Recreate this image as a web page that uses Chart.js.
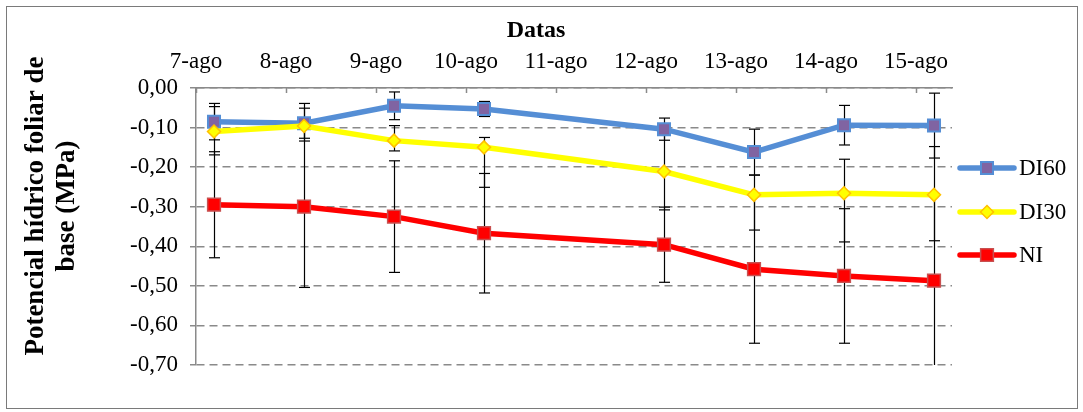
<!DOCTYPE html>
<html><head><meta charset="utf-8">
<script src="https://cdn.jsdelivr.net/npm/chart.js@4/dist/chart.umd.min.js"></script>
<style>html,body{margin:0;padding:0;background:#fff}canvas{display:block}</style>
</head><body>
<canvas id="c" width="1083" height="412"></canvas>
<script>
// ---- data ----
const tickDays   = [7, 8, 9, 10, 11, 12, 13, 14, 15];
const tickLabels = ['7-ago','8-ago','9-ago','10-ago','11-ago','12-ago','13-ago','14-ago','15-ago'];
const sampleDays = [7.2, 8.2, 9.2, 10.2, 12.2, 13.2, 14.2, 15.2];
const seriesNames = ['DI60', 'DI30', 'NI'];
const di60         = [-0.085, -0.089, -0.045, -0.053, -0.104, -0.162, -0.094, -0.095];
const di60ErrPlus  = [0.046, 0.038, 0.035, 0.019, 0.028, 0.058, 0.050, 0.082];
const di60ErrMinus = [0.046, 0.038, 0.035, 0.019, 0.028, 0.058, 0.050, 0.082];
const di30         = [-0.110, -0.096, -0.133, -0.150, -0.211, -0.270, -0.266, -0.270];
const di30ErrPlus  = [0.063, 0.057, 0.038, 0.025, 0.097, 0.050, 0.086, 0.122];
const di30ErrMinus = [0.059, 0.038, 0.026, 0.101, 0.097, 0.089, 0.123, 0.116];
const ni           = [-0.295, -0.300, -0.325, -0.367, -0.396, -0.458, -0.475, -0.487];
const niErrPlus    = [0.134, 0.204, 0.141, 0.151, 0.095, 0.187, 0.170, 0.220];
const niErrMinus   = [0.134, 0.204, 0.141, 0.151, 0.095, 0.187, 0.170, 0.220];
const yMin = -0.7, yMax = 0, yStep = 0.1;
const xMin = 7, xMax = 15.4;
const chartTitle = 'Datas';
const yTitle = ['Potencial hídrico foliar de', 'base (MPa)'];

const FONT = '"Liberation Serif", "Times New Roman", serif';
const pts = vals => sampleDays.map((d, i) => ({x: d, y: vals[i]}));

const errorBars = {
  id: 'errorBars',
  beforeDatasetsDraw(chart) {
    const {ctx, chartArea: a, scales: {x, y}} = chart;
    ctx.save();
    ctx.beginPath(); ctx.rect(a.left, a.top - 1, a.right - a.left, a.bottom - a.top + 1); ctx.clip();
    ctx.strokeStyle = '#000'; ctx.lineWidth = 1.2;
    chart.data.datasets.forEach(ds => {
      ds.data.forEach((p, i) => {
        const px = Math.round(x.getPixelForValue(p.x)) + 0.5;
        const hi = p.y + ds.errPlus[i], lo = p.y - ds.errMinus[i];
        const pt = y.getPixelForValue(hi), pb = y.getPixelForValue(lo);
        ctx.beginPath(); ctx.moveTo(px, pt); ctx.lineTo(px, pb); ctx.stroke();
        [[hi, pt], [lo, pb]].forEach(([v, py]) => {
          if (v >= yMin - 1e-9 && v <= yMax + 1e-9) {
            ctx.beginPath(); ctx.moveTo(px - 5.5, py); ctx.lineTo(px + 5.5, py); ctx.stroke();
          }
        });
      });
    });
    ctx.restore();
    // inward ticks on the top date axis
    ctx.save();
    ctx.strokeStyle = '#8a8a8a'; ctx.lineWidth = 1.5;
    tickDays.forEach(d => {
      const px = Math.round(x.getPixelForValue(d)) + 0.5;
      ctx.beginPath(); ctx.moveTo(px, a.top); ctx.lineTo(px, a.top + 5); ctx.stroke();
    });
    ctx.restore();
  }
};

const decorations = {
  id: 'decorations',
  afterDraw(chart) {
    const {ctx} = chart;
    ctx.save();
    // frame
    ctx.strokeStyle = '#7a7a7a'; ctx.lineWidth = 1;
    ctx.strokeRect(6.5, 6.5, 1071, 402);
    // title
    ctx.fillStyle = '#000';
    ctx.font = 'bold 24px ' + FONT;
    ctx.textAlign = 'center'; ctx.textBaseline = 'middle';
    ctx.fillText(chartTitle, 536, 31);
    // y title
    ctx.save();
    ctx.translate(0, 206);
    ctx.rotate(-Math.PI / 2);
    ctx.font = 'bold 27px ' + FONT;
    ctx.fillText(yTitle[0], 0, 36);
    ctx.fillText(yTitle[1], 0, 67);
    ctx.restore();
    // legend
    const lx0 = 960, lx1 = 1014, lxm = 987;
    const ys = [168, 212, 255];
    chart.data.datasets.forEach((ds, i) => {
      const ly = ys[i];
      ctx.strokeStyle = ds.borderColor; ctx.lineWidth = ds.borderWidth; ctx.lineCap = 'round';
      ctx.beginPath(); ctx.moveTo(lx0, ly); ctx.lineTo(lx1, ly); ctx.stroke();
      ctx.lineCap = 'butt';
      ctx.fillStyle = ds.pointBackgroundColor; ctx.strokeStyle = ds.pointBorderColor; ctx.lineWidth = ds.pointBorderWidth;
      Chart.helpers.drawPoint(ctx, {pointStyle: ds.pointStyle, radius: ds.pointRadius, borderWidth: ds.pointBorderWidth, rotation: 0}, lxm, ly);
      ctx.fillStyle = '#000';
      ctx.font = '23px ' + FONT; ctx.textAlign = 'left'; ctx.textBaseline = 'middle';
      ctx.fillText(ds.label, 1019, ly + 1);
    });
    ctx.restore();
  }
};

new Chart(document.getElementById('c'), {
  type: 'line',
  data: {
    datasets: [
      {label: seriesNames[0], data: pts(di60), errPlus: di60ErrPlus, errMinus: di60ErrMinus,
       borderColor: '#558ED5', borderWidth: 5.5, pointStyle: 'rect', pointRadius: 8.5,
       pointBackgroundColor: '#8064A2', pointBorderColor: '#558ED5', pointBorderWidth: 2, order: 2},
      {label: seriesNames[1], data: pts(di30), errPlus: di30ErrPlus, errMinus: di30ErrMinus,
       borderColor: '#FFFF00', borderWidth: 5.5, pointStyle: 'rectRot', pointRadius: 6.5,
       pointBackgroundColor: '#FFFF00', pointBorderColor: '#FFC000', pointBorderWidth: 1.5, order: 1},
      {label: seriesNames[2], data: pts(ni), errPlus: niErrPlus, errMinus: niErrMinus,
       borderColor: '#FF0000', borderWidth: 5.5, pointStyle: 'rect', pointRadius: 9,
       pointBackgroundColor: '#FF0000', pointBorderColor: '#C85050', pointBorderWidth: 1.5, order: 0}
    ]
  },
  options: {
    responsive: false, animation: false, devicePixelRatio: 1,
    layout: {padding: {left: 0, right: 131, top: 0, bottom: 47}},
    plugins: {legend: {display: false}, tooltip: {enabled: false}, title: {display: false}},
    elements: {line: {tension: 0}},
    scales: {
      x: {
        type: 'linear', position: 'top', min: xMin, max: xMax,
        afterBuildTicks: s => { s.ticks = tickDays.map(v => ({value: v})); },
        afterFit: s => { s.height = 88; },
        ticks: {
          callback: v => tickLabels[tickDays.indexOf(v)] ?? '',
          font: {family: FONT, size: 23}, color: '#000', padding: 12, maxRotation: 0, autoSkip: false
        },
        grid: {drawOnChartArea: false, drawTicks: false},
        border: {display: true, color: '#8a8a8a', width: 1.5}
      },
      y: {
        min: yMin, max: yMax,
        afterFit: s => { s.width = 196; },
        ticks: {
          stepSize: yStep,
          callback: v => Math.abs(v) < 1e-9 ? '0,00' : v.toFixed(2).replace('.', ','),
          font: {family: FONT, size: 23}, color: '#000', padding: 12
        },
        grid: {color: '#8a8a8a', lineWidth: 1.5, tickLength: 6, tickColor: '#8a8a8a', tickWidth: 1.5},
        border: {display: true, color: '#8a8a8a', width: 1.5, dash: [8, 5]}
      }
    }
  },
  plugins: [errorBars, decorations]
});
</script>
</body></html>
